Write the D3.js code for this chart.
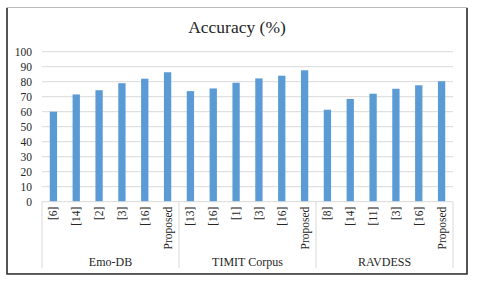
<!DOCTYPE html>
<html>
<head>
<meta charset="utf-8">
<script src="https://cdn.jsdelivr.net/npm/d3@7"></script>
<style>
  body { margin: 0; background: #fff; }
  svg text { font-family: "Liberation Serif", "Times New Roman", serif; fill: #262626; }
</style>
</head>
<body>
<div id="chart"></div>
<script>
// data
var groups = ["Emo-DB", "TIMIT Corpus", "RAVDESS"];
var methods = [
    ["[6]", "[14]", "[2]", "[3]", "[16]", "Proposed"],
    ["[13]", "[16]", "[1]", "[3]", "[16]", "Proposed"],
    ["[8]", "[14]", "[11]", "[3]", "[16]", "Proposed"]
];
var accuracy = [
    [60, 71.5, 74.3, 79, 82, 86.3],
    [73.7, 75.5, 79.3, 82.2, 84, 87.6],
    [61.3, 68.5, 72, 75.3, 77.6, 80.3]
];
var yTicks = [0, 10, 20, 30, 40, 50, 60, 70, 80, 90, 100];

var rows = [];
groups.forEach(function (g, gi) {
    methods[gi].forEach(function (m, mi) {
        rows.push({ group: g, method: m, value: accuracy[gi][mi], key: gi + "-" + mi });
    });
});

var W = 480, H = 285;
var plotL = 42, plotR = 453, plotT = 51.7, plotB = 201.7;

var svg = d3.select("#chart").append("svg")
    .attr("width", W)
    .attr("height", H);

// frame
svg.append("rect")
    .attr("x", 7).attr("y", 7.5)
    .attr("width", 460).attr("height", 266)
    .attr("fill", "#fff")
    .attr("stroke", "#bbb")
    .attr("stroke-width", 1);
svg.append("path")
    .attr("d", "M7,8 V274 H467 V8")
    .attr("fill", "none")
    .attr("stroke", "#333")
    .attr("stroke-width", 1.6);

var x = d3.scaleBand()
    .domain(rows.map(function (d) { return d.key; }))
    .range([plotL, plotR])
    .paddingInner(0.68)
    .paddingOuter(0.34);

var y = d3.scaleLinear().domain([0, 100]).range([plotB, plotT]);

// grid
svg.append("g")
    .selectAll("line")
    .data(yTicks.filter(function (t) { return t > 0; }))
    .enter()
    .append("line")
    .attr("x1", plotL).attr("x2", plotR)
    .attr("y1", function (d) { return y(d); })
    .attr("y2", function (d) { return y(d); })
    .attr("stroke", "#d9d9d9")
    .attr("stroke-width", 1);

// y labels
var yAxis = svg.append("g")
    .attr("transform", "translate(" + (plotL - 9) + ",0)")
    .call(d3.axisLeft(y).tickValues(yTicks).tickSize(0).tickPadding(1));
yAxis.select(".domain").remove();
yAxis.selectAll("text")
    .style("font-family", "Liberation Serif, serif")
    .style("font-size", "11.5px")
    .attr("fill", "#262626");

// bars
svg.selectAll(".bar")
    .data(rows)
    .enter()
    .append("rect")
    .attr("class", "bar")
    .attr("x", function (d) { return x(d.key); })
    .attr("width", x.bandwidth())
    .attr("y", function (d) { return y(d.value); })
    .attr("height", function (d) { return y(0) - y(d.value); })
    .attr("fill", "#5b9bd5");

// category axis: baseline and group separators
svg.append("line")
    .attr("x1", plotL).attr("x2", plotR)
    .attr("y1", plotB).attr("y2", plotB)
    .attr("stroke", "#d9d9d9");

var groupEdges = [0, 6, 12, 18].map(function (i) { return plotL + i * (plotR - plotL) / 18; });
svg.selectAll(".sep")
    .data(groupEdges)
    .enter()
    .append("line")
    .attr("x1", function (d) { return d; })
    .attr("x2", function (d) { return d; })
    .attr("y1", plotB)
    .attr("y2", 268)
    .attr("stroke", "#d9d9d9");

// method labels (rotated)
svg.selectAll(".mlabel")
    .data(rows)
    .enter()
    .append("text")
    .attr("transform", function (d) {
        return "translate(" + (x(d.key) + x.bandwidth() / 2 + 4) + "," + (plotB + 5) + ") rotate(-90)";
    })
    .attr("text-anchor", "end")
    .style("font-size", "11.5px")
    .text(function (d) { return d.method; });

// group labels
svg.selectAll(".glabel")
    .data(groups)
    .enter()
    .append("text")
    .attr("x", function (d, i) { return (groupEdges[i] + groupEdges[i + 1]) / 2; })
    .attr("y", 266)
    .attr("text-anchor", "middle")
    .style("font-size", "12px")
    .text(function (d) { return d; });

// title
svg.append("text")
    .attr("x", 237)
    .attr("y", 33)
    .attr("text-anchor", "middle")
    .style("font-size", "17.5px")
    .text("Accuracy (%)");
</script>
</body>
</html>
